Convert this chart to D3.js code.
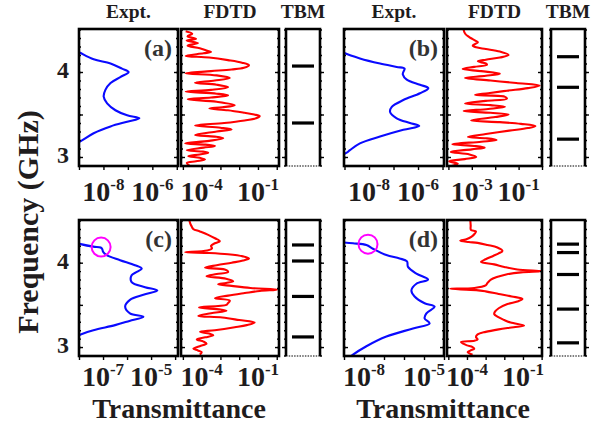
<!DOCTYPE html>
<html>
<head>
<meta charset="utf-8">
<script src="https://cdn.jsdelivr.net/npm/d3@7"></script>
<style>
body { margin: 0; background: #fff; }
text { font-family: "Liberation Serif", "Times New Roman", serif; font-weight: bold; fill: #1f1c1d; }
</style>
</head>
<body>
<svg id="chart" width="604" height="426"></svg>
<script>
// [frequency GHz, log10 transmittance]
var exptA = [[4.25,-9.1],[4.22,-8.91],[4.15,-8.40],[4.10,-7.71],[4.04,-7.24],[4.00,-6.97],[3.94,-7.31],[3.87,-7.71],[3.79,-7.92],[3.71,-7.99],[3.63,-7.85],[3.55,-7.51],[3.49,-7.03],[3.455,-6.53],[3.415,-7.03],[3.36,-7.71],[3.28,-8.40],[3.19,-8.91],[3.16,-9.1]];
var exptB = [[4.24,-9.1],[4.22,-8.98],[4.16,-8.37],[4.10,-7.55],[4.06,-6.87],[4.04,-6.55],[4.00,-6.6],[3.97,-6.62],[3.91,-6.46],[3.85,-5.92],[3.81,-5.58],[3.75,-5.92],[3.67,-6.60],[3.59,-7.07],[3.53,-7.14],[3.455,-6.87],[3.40,-6.33],[3.365,-5.95],[3.32,-6.60],[3.24,-7.55],[3.16,-8.37],[3.08,-8.78],[3.05,-8.91],[3.02,-9.1]];
var exptC = [[4.23,-8.05],[4.22,-7.93],[4.19,-7.40],[4.18,-7.1],[4.16,-7.03],[4.13,-7.0],[4.09,-6.85],[4.03,-6.29],[3.97,-5.67],[3.93,-5.39],[3.89,-5.6],[3.85,-5.81],[3.77,-5.81],[3.71,-5.25],[3.67,-4.74],[3.62,-5.32],[3.56,-5.88],[3.48,-6.08],[3.40,-5.88],[3.36,-5.32],[3.31,-5.9],[3.26,-6.5],[3.20,-7.40],[3.15,-7.93],[3.13,-8.1]];
var exptD = [[4.24,-9.05],[4.23,-8.55],[4.21,-7.88],[4.165,-7.55],[4.09,-6.88],[4.05,-6.22],[4.015,-5.85],[3.95,-5.80],[3.87,-5.38],[3.80,-4.80],[3.75,-5.38],[3.67,-5.63],[3.60,-5.47],[3.52,-4.97],[3.48,-4.47],[3.40,-4.88],[3.34,-4.97],[3.28,-4.72],[3.22,-5.55],[3.125,-6.88],[3.01,-7.88],[2.91,-8.55],[2.88,-8.7]];

var fdtdA = [[4.48,-4.85],[4.45,-4.5],[4.42,-4.75],[4.39,-4.3],[4.37,-4.8],[4.34,-4.2],[4.31,-4.75],[4.28,-4.1],[4.25,-3.7],[4.235,-3.5],[4.22,-3.9],[4.19,-4.85],[4.17,-3.6],[4.14,-2.6],[4.11,-1.85],[4.08,-1.48],[4.05,-1.75],[4.03,-2.4],[4.01,-3.5],[3.985,-4.85],[3.96,-3.2],[3.93,-2.5],[3.90,-3.3],[3.875,-4.35],[3.85,-3.2],[3.82,-2.59],[3.79,-3.5],[3.77,-4.85],[3.745,-3.2],[3.725,-2.59],[3.70,-3.5],[3.68,-4.74],[3.65,-3.2],[3.61,-2.24],[3.585,-2.9],[3.57,-3.59],[3.55,-2.6],[3.52,-1.71],[3.50,-1.2],[3.48,-0.91],[3.455,-1.1],[3.43,-1.71],[3.40,-2.8],[3.37,-4.35],[3.345,-3.0],[3.325,-2.41],[3.30,-3.2],[3.26,-4.35],[3.24,-3.3],[3.22,-2.85],[3.19,-3.6],[3.16,-4.88],[3.145,-3.8],[3.13,-3.29],[3.11,-3.9],[3.08,-4.79],[3.065,-4.0],[3.05,-3.65],[3.03,-4.1],[3.01,-4.71],[2.99,-4.1],[2.97,-3.82],[2.95,-4.3],[2.93,-4.79],[2.89,-4.6]];
var fdtdB = [[4.50,-3.35],[4.47,-3.32],[4.44,-3.25],[4.42,-3.15],[4.40,-3.05],[4.37,-2.85],[4.35,-2.74],[4.33,-2.85],[4.31,-2.96],[4.29,-2.81],[4.27,-2.4],[4.24,-1.8],[4.20,-1.43],[4.17,-1.8],[4.145,-2.4],[4.125,-2.74],[4.10,-2.4],[4.085,-2.35],[4.06,-2.9],[4.035,-3.39],[4.01,-2.6],[3.98,-1.8],[3.955,-2.4],[3.93,-3.29],[3.90,-2.2],[3.87,-1.1],[3.84,-0.1],[3.81,-0.6],[3.78,-1.5],[3.75,-2.3],[3.73,-2.86],[3.71,-1.6],[3.685,-1.5],[3.66,-2.4],[3.63,-3.29],[3.61,-2.2],[3.59,-1.58],[3.565,-2.3],[3.54,-3.35],[3.52,-2.2],[3.50,-1.43],[3.47,-2.0],[3.43,-3.03],[3.41,-1.8],[3.39,-0.9],[3.365,-0.28],[3.34,-0.6],[3.31,-1.4],[3.27,-2.4],[3.235,-3.17],[3.22,-2.4],[3.20,-1.94],[3.18,-2.6],[3.15,-3.83],[3.13,-2.9],[3.11,-2.45],[3.09,-3.0],[3.06,-3.9],[3.03,-3.1],[3.00,-2.81],[2.975,-3.3],[2.95,-3.97],[2.92,-3.6],[2.89,-3.9]];
var fdtdC = [[4.50,-4.65],[4.46,-4.6],[4.43,-4.53],[4.40,-4.45],[4.37,-4.09],[4.33,-3.65],[4.29,-3.29],[4.255,-3.03],[4.23,-3.3],[4.20,-3.5],[4.17,-3.45],[4.145,-3.7],[4.125,-4.88],[4.115,-3.6],[4.10,-2.6],[4.075,-1.8],[4.05,-1.48],[4.025,-1.8],[4.00,-2.4],[3.97,-3.2],[3.94,-3.82],[3.92,-2.77],[3.89,-2.59],[3.865,-3.2],[3.84,-3.74],[3.81,-2.7],[3.78,-2.32],[3.76,-2.7],[3.745,-3.12],[3.725,-2.4],[3.70,-1.4],[3.68,0.02],[3.665,-0.9],[3.64,-1.7],[3.61,-2.59],[3.58,-3.29],[3.55,-2.5],[3.52,-2.6],[3.50,-2.68],[3.47,-4.14],[3.445,-3.0],[3.43,-2.68],[3.40,-3.5],[3.37,-4.18],[3.35,-2.9],[3.32,-2.0],[3.29,-1.18],[3.26,-1.6],[3.235,-2.24],[3.20,-3.3],[3.18,-4.09],[3.16,-3.6],[3.14,-3.38],[3.115,-3.8],[3.09,-4.26],[3.065,-3.9],[3.04,-3.74],[3.01,-4.1],[2.98,-4.44],[2.96,-4.2],[2.94,-4.0],[2.91,-4.1]];
var fdtdD = [[4.50,-3.82],[4.44,-3.80],[4.39,-3.79],[4.37,-3.52],[4.34,-3.6],[4.31,-3.75],[4.28,-4.0],[4.26,-4.36],[4.245,-3.9],[4.235,-3.43],[4.21,-2.9],[4.18,-2.37],[4.14,-2.10],[4.11,-2.3],[4.08,-2.6],[4.04,-3.0],[4.01,-3.25],[3.98,-2.54],[3.95,-2.0],[3.92,-1.3],[3.90,0.0],[3.885,-1.1],[3.86,-1.9],[3.83,-2.4],[3.80,-2.72],[3.76,-2.9],[3.73,-3.0],[3.70,-3.6],[3.69,-4.9],[3.675,-3.5],[3.66,-3.0],[3.63,-2.3],[3.60,-1.6],[3.57,-1.03],[3.54,-1.3],[3.51,-1.83],[3.46,-2.3],[3.42,-2.5],[3.39,-2.54],[3.36,-2.37],[3.32,-2.0],[3.29,-1.66],[3.255,-0.94],[3.235,-1.5],[3.21,-2.3],[3.18,-3.0],[3.15,-3.43],[3.12,-3.52],[3.09,-3.43],[3.075,-3.6],[3.06,-4.32],[3.04,-4.2],[3.02,-4.0],[3.00,-3.7],[2.98,-3.61],[2.96,-3.8],[2.94,-3.96],[2.91,-3.7]];

// TBM eigenfrequencies (GHz)
var tbmA = [4.07, 3.40];
var tbmB = [4.18, 3.82, 3.21];
var tbmC = [4.21, 4.02, 3.60, 3.12];
var tbmD = [4.22, 4.12, 3.86, 3.45, 3.05];

// highlighted points [frequency, log10 T]
var markC = [4.185, -7.08];
var markD = [4.22, -7.8];

// labelled decades
var exptTicksA = [-8, -6], fdtdTicksA = [-4, -1];
var exptTicksB = [-8, -6], fdtdTicksB = [-3, -1];
var exptTicksC = [-7, -5], fdtdTicksC = [-4, -1];
var exptTicksD = [-8, -5], fdtdTicksD = [-4, -1];

var freqTicks = [3, 4];
var titles = ["Expt.", "FDTD", "TBM"];

var svg = d3.select("#chart");
var freqDomain = [2.894, 4.506];
var rows = [[29, 166], [220, 356]];
var labelY = [201, 386];
var cols = [
	{ expt : [79, 178], fdtd : [181, 279], tbm : [286, 320] },
	{ expt : [344, 444], fdtd : [447, 542], tbm : [551, 585] }
];
var panels = [
	{ label : "(a)", row : 0, col : 0, expt : exptA, fdtd : fdtdA, tbm : tbmA, exptDom : [-9, -4.95], fdtdDom : [-5.1, 0.12], exptTicks : exptTicksA, fdtdTicks : fdtdTicksA },
	{ label : "(b)", row : 0, col : 1, expt : exptB, fdtd : fdtdB, tbm : tbmB, exptDom : [-9.02, -4.94], fdtdDom : [-4.06, 0], exptTicks : exptTicksB, fdtdTicks : fdtdTicksB },
	{ label : "(c)", row : 1, col : 0, expt : exptC, fdtd : fdtdC, tbm : tbmC, exptDom : [-8, -3.88], fdtdDom : [-5.1, 0.12], exptTicks : exptTicksC, fdtdTicks : fdtdTicksC, mark : markC },
	{ label : "(d)", row : 1, col : 1, expt : exptD, fdtd : fdtdD, tbm : tbmD, exptDom : [-9, -4], fdtdDom : [-5.07, 0.02], exptTicks : exptTicksD, fdtdTicks : fdtdTicksD, mark : markD }
];

var clipCount = 0;
var minorFreq = d3.range(29, 46).map(function(v) { return v / 10; });
var majorFreq = [3, 3.5, 4];
var pow10 = function(e) { return Math.pow(10, e); };

function yTicks(g, y, x0, x1, inside) {
	var s = inside ? -1 : 1;
	[[minorFreq, 2], [majorFreq, 4]].forEach(function(t) {
		g.append("g").attr("transform", "translate(" + x0 + ",0)")
			.call(d3.axisLeft(y).tickValues(t[0]).tickSize(s * t[1]).tickFormat(""));
		g.append("g").attr("transform", "translate(" + x1 + ",0)")
			.call(d3.axisRight(y).tickValues(t[0]).tickSize(s * t[1]).tickFormat(""));
	});
}

function plotBox(xr, r, y, dom, data, color, labelled, row) {
	var x = d3.scaleLog().domain(dom.map(pow10)).range(xr);
	var g = svg.append("g");
	var cid = "clip" + (clipCount++);
	svg.append("clipPath").attr("id", cid).append("rect")
		.attr("x", xr[0]).attr("y", r[0]).attr("width", xr[1] - xr[0]).attr("height", r[1] - r[0]);
	var line = d3.line()
		.x(function(d) { return x(pow10(d[1])); })
		.y(function(d) { return y(d[0]); })
		.curve(d3.curveCatmullRom.alpha(0.5));
	g.append("path").datum(data)
		.attr("clip-path", "url(#" + cid + ")")
		.attr("d", line)
		.attr("fill", "none")
		.attr("stroke", color)
		.attr("stroke-width", 2.1)
		.attr("stroke-linejoin", "round");

	yTicks(g, y, xr[0], xr[1], true);
	var decades = d3.range(Math.ceil(dom[0]), Math.floor(dom[1]) + 1).map(pow10);
	g.append("g").attr("transform", "translate(0," + r[1] + ")")
		.call(d3.axisBottom(x).tickValues(decades).tickSize(4).tickFormat(""));
	g.selectAll(".domain").remove();
	g.selectAll(".tick line").attr("stroke", "#000").attr("stroke-width", 1.4);

	g.append("rect")
		.attr("x", xr[0]).attr("y", r[0])
		.attr("width", xr[1] - xr[0]).attr("height", r[1] - r[0])
		.attr("fill", "none").attr("stroke", "#000").attr("stroke-width", 2.6);

	labelled.forEach(function(e) {
		var t = g.append("text")
			.attr("x", x(pow10(e)))
			.attr("y", labelY[row])
			.attr("text-anchor", "middle")
			.style("font-size", "28px");
		t.append("tspan").text("10");
		t.append("tspan").attr("dy", -11).style("font-size", "17px").text("-" + Math.abs(e));
	});
	return x;
}

function tbmBox(xr, r, y, levels) {
	var g = svg.append("g");
	yTicks(g, y, xr[0], xr[1], false);
	g.selectAll(".domain").remove();
	g.selectAll(".tick line").attr("stroke", "#000").attr("stroke-width", 1.4);
	g.append("line")
		.attr("x1", xr[0]).attr("x2", xr[1]).attr("y1", r[1]).attr("y2", r[1])
		.attr("stroke", "#555").attr("stroke-width", 1.3).attr("stroke-dasharray", "1.5,1.2");
	g.append("path")
		.attr("d", "M" + xr[0] + "," + r[1] + "V" + r[0] + "H" + xr[1] + "V" + r[1])
		.attr("fill", "none").attr("stroke", "#000").attr("stroke-width", 2.6);
	g.selectAll(".level").data(levels).enter().append("line")
		.attr("class", "level")
		.attr("x1", xr[0] + 6).attr("x2", xr[0] + 28)
		.attr("y1", function(d) { return y(d); })
		.attr("y2", function(d) { return y(d); })
		.attr("stroke", "#000").attr("stroke-width", 3.2);
}

panels.forEach(function(p) {
	var c = cols[p.col], r = rows[p.row];
	var y = d3.scaleLinear().domain(freqDomain).range([r[1], r[0]]);
	var xe = plotBox(c.expt, r, y, p.exptDom, p.expt, "#0a0aff", p.exptTicks, p.row);
	plotBox(c.fdtd, r, y, p.fdtdDom, p.fdtd, "#ff0000", p.fdtdTicks, p.row);
	tbmBox(c.tbm, r, y, p.tbm);

	svg.append("text")
		.attr("x", c.expt[1] - 6).attr("y", r[0] + 27)
		.attr("text-anchor", "end")
		.style("font-size", "24px").style("fill", "#333")
		.text(p.label);

	if (p.mark) {
		svg.append("circle")
			.attr("cx", xe(pow10(p.mark[1])))
			.attr("cy", y(p.mark[0]))
			.attr("r", 9.5)
			.attr("fill", "none").attr("stroke", "#ff00ff").attr("stroke-width", 2);
	}

	if (p.row === 0) {
		[c.expt, c.fdtd, c.tbm].forEach(function(xr, i) {
			svg.append("text")
				.attr("x", (xr[0] + xr[1]) / 2).attr("y", 18)
				.attr("text-anchor", "middle")
				.style("font-size", "19.5px")
				.text(titles[i]);
		});
	} else {
		svg.append("text")
			.attr("x", (c.expt[0] + c.fdtd[1]) / 2).attr("y", 418)
			.attr("text-anchor", "middle")
			.style("font-size", "28px")
			.text("Transmittance");
	}

	if (p.col === 0) {
		svg.selectAll(null).data(freqTicks).enter().append("text")
			.attr("x", 63)
			.attr("y", function(d) { return y(d) + 6; })
			.attr("text-anchor", "middle")
			.style("font-size", "24px")
			.text(function(d) { return d; });
	}
});

svg.append("text")
	.attr("transform", "translate(38,222) rotate(-90)")
	.attr("text-anchor", "middle")
	.style("font-size", "30px")
	.text("Frequency (GHz)");
</script>
</body>
</html>
